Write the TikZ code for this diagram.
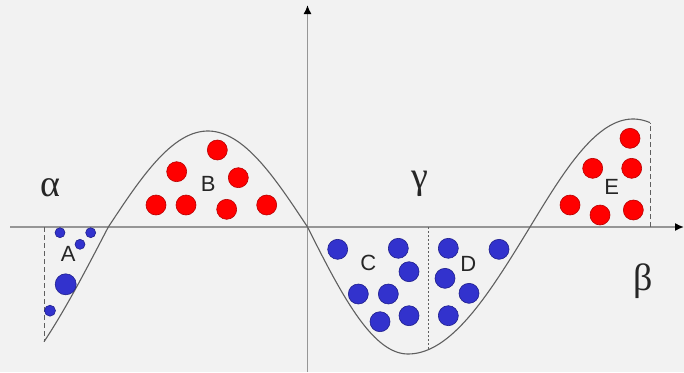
\documentclass[tikz,border=0pt]{standalone}
\usepackage{fontspec}
\setmainfont{Liberation Sans}
\newfontfamily\grk{Liberation Serif}
\usetikzlibrary{arrows.meta}
\definecolor{bg}{RGB}{242,242,242}
\definecolor{axisgray}{RGB}{150,150,150}
\definecolor{curvegray}{RGB}{95,95,95}
\definecolor{dotred}{RGB}{255,0,0}
\definecolor{dotredline}{RGB}{185,0,0}
\definecolor{dotblue}{RGB}{50,50,205}
\definecolor{dotblueline}{RGB}{30,30,140}
\begin{document}
\begin{tikzpicture}[x=1pt,y=-1pt,
  axis/.style={draw=axisgray, line width=1.6pt},
  curve/.style={draw=curvegray, line width=1.1pt},
  guide/.style={draw=curvegray, line width=1pt, dash pattern=on 5pt off 3pt},
  guidedot/.style={draw=curvegray, line width=1pt, dash pattern=on 2pt off 2pt},
  reddot/.style={circle, fill=dotred, draw=dotredline, line width=0.6pt, minimum size=20pt, inner sep=0pt},
  bluedot/.style={circle, fill=dotblue, draw=dotblueline, line width=0.6pt, minimum size=20pt, inner sep=0pt},
  smalldot/.style={bluedot, minimum size=10pt},
  lbl/.style={font=\fontsize{22}{26}\selectfont, inner sep=0pt, text=black!85},
  greek/.style={font=\grk\fontsize{38}{44}\selectfont, inner sep=0pt, text=black!85},
]
\fill[bg] (0,0) rectangle (684,372);
\useasboundingbox (0,0) rectangle (684,372);

% axes
\coordinate (xs) at (10,227);
\coordinate (xe) at (684,227);
\coordinate (ys) at (307.5,372);
\coordinate (ye) at (307.5,5);
\draw[axis, -{Latex[length=9pt,width=8pt,color=black]}] (xs) -- (xe);
\draw[axis, -{Latex[length=9pt,width=8pt,color=black]}] (ys) -- (ye);

% curve
\draw[curve]
  plot[domain=44:108.3, samples=30] (\x, {227+184*sin((108.3-\x)/300*180)})
  -- plot[domain=108.3:307.5, samples=60] (\x, {227-96*sin((\x-108.3)/199.2*180)})
  -- plot[domain=307.5:408, samples=40] (\x, {227+127*sin((\x-307.5)/100.5*90)})
  -- plot[domain=408:530, samples=40] (\x, {227+127*cos((\x-408)/122*90)})
  -- plot[domain=530:650, samples=40] (\x, {227-108*sin((\x-530)/103*90)});

% guide lines
\coordinate (gA1) at (44,227);
\coordinate (gA2) at (44,341.8);
\coordinate (gD1) at (428,227);
\coordinate (gD2) at (428,349.8);
\coordinate (gE1) at (650,227);
\coordinate (gE2) at (650,122.7);
\draw[guide] (gA1) -- (gA2);
\draw[guidedot] (gD1) -- (gD2);
\draw[guide] (gE1) -- (gE2);

% region A
\node[smalldot] (a1) at (60,232.7) {};
\node[smalldot] (a2) at (90.7,232.7) {};
\node[smalldot] (a3) at (80,244.3) {};
\node[bluedot, minimum size=21pt] (a4) at (65.7,284.3) {};
\node[smalldot, minimum size=11pt] (a5) at (50,310.7) {};

% region B
\node[reddot] (b1) at (217.3,150) {};
\node[reddot] (b2) at (176.7,171.7) {};
\node[reddot] (b3) at (238.3,177.7) {};
\node[reddot] (b4) at (156,205) {};
\node[reddot] (b5) at (186,205) {};
\node[reddot] (b6) at (226.7,209.3) {};
\node[reddot] (b7) at (266.7,205) {};

% region C
\node[bluedot] (c1) at (337.7,249.3) {};
\node[bluedot] (c2) at (398.3,248.3) {};
\node[bluedot] (c3) at (409,271.7) {};
\node[bluedot] (c4) at (358.3,294) {};
\node[bluedot] (c5) at (388.3,294) {};
\node[bluedot] (c6) at (380,321.7) {};
\node[bluedot] (c7) at (409,315.7) {};

% region D
\node[bluedot] (d1) at (448.3,248.3) {};
\node[bluedot] (d2) at (499,249.3) {};
\node[bluedot] (d3) at (445,278.3) {};
\node[bluedot] (d4) at (469,293.3) {};
\node[bluedot] (d5) at (448.3,315.7) {};

% region E
\node[reddot] (e1) at (630,138.3) {};
\node[reddot] (e2) at (592.7,168.3) {};
\node[reddot] (e3) at (631.7,168.3) {};
\node[reddot] (e4) at (570,205) {};
\node[reddot] (e5) at (600,215) {};
\node[reddot] (e6) at (633.3,210) {};

% labels
\node[lbl] (lA) at (68.3,254) {A};
\node[lbl] (lB) at (208.3,184) {B};
\node[lbl] (lC) at (368.3,263.3) {C};
\node[lbl] (lD) at (468.3,264) {D};
\node[lbl] (lE) at (611.7,187.3) {E};
\node[greek] (alpha) at (50.5,188) {α};
\node[greek] (gamma) at (420,184) {γ};
\node[greek] (beta) at (643,281) {β};
\end{tikzpicture}
\end{document}
